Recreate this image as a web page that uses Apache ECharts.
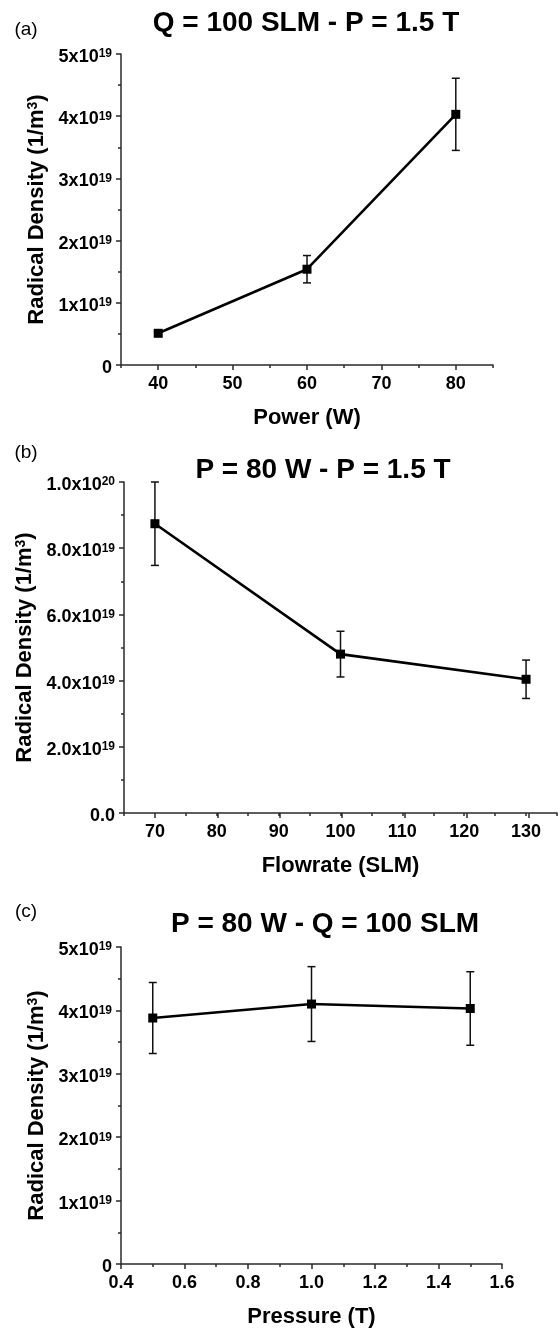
<!DOCTYPE html>
<html>
<head>
<meta charset="utf-8">
<script src="https://cdn.jsdelivr.net/npm/echarts@6/dist/echarts.min.js"></script>
<style>
html,body{margin:0;padding:0;background:#fff;}
#chart{width:560px;height:1329px;}
</style>
</head>
<body>
<div id="chart"></div>
<script>
// ---------------- data (radical density in units of 1e19 m^-3) ----------------
const powerW = [40, 60, 80];
const densityVsPower = [0.51, 1.54, 4.03];
const errVsPower = [0.05, 0.22, 0.58];

const flowSLM = [70, 100, 130];
const densityVsFlow = [8.74, 4.80, 4.04];
const errVsFlow = [1.26, 0.69, 0.58];

const pressureT = [0.5, 1.0, 1.5];
const densityVsPressure = [3.88, 4.10, 4.03];
const errVsPressure = [0.56, 0.59, 0.58];

const powerTicks = [40, 50, 60, 70, 80];
const flowTicks = [70, 80, 90, 100, 110, 120, 130];

const panelLabels = ['(a)', '(b)', '(c)'];
const panelTitles = ['Q = 100 SLM - P = 1.5 T', 'P = 80 W - P = 1.5 T', 'P = 80 W - Q = 100 SLM'];
const xNames = ['Power (W)', 'Flowrate (SLM)', 'Pressure (T)'];
const yName = '{n|Radical Density (1/m}{s|3}{n|)}';

// ---------------- styling ----------------
const FONT = '"Liberation Sans", Arial, Helvetica, sans-serif';
const AXIS_COLOR = '#2a2a2a';

function fmtInt19(v) { // 0, 1x10^19 ...
  if (Math.abs(v) < 1e-9) return '{m|0}';
  return '{m|' + Math.round(v) + 'x10}{s|19}';
}
function fmtDec(v) { // 0.0, 2.0x10^19 ... 1.0x10^20
  if (Math.abs(v) < 1e-9) return '{m|0.0}';
  let e = 19, m = v;
  while (m >= 10 - 1e-9) { m /= 10; e++; }
  return '{m|' + m.toFixed(1) + 'x10}{s|' + e + '}';
}
const yRich = {
  m: {fontSize: 18, fontWeight: 'bold', fontFamily: FONT, color: '#000'},
  s: {fontSize: 12, fontWeight: 'bold', fontFamily: FONT, color: '#000', verticalAlign: 'top'}
};

function yAxisCfg(gridIndex, max, interval, formatter) {
  return {
    type: 'value', gridIndex, min: 0, max, interval,
    name: yName, nameLocation: 'middle', nameGap: 66, nameRotate: 90,
    nameTextStyle: {
      rich: {
        n: {fontSize: 22, fontWeight: 'bold', fontFamily: FONT, color: '#000'},
        s: {fontSize: 14, fontWeight: 'bold', fontFamily: FONT, color: '#000', verticalAlign: 'top'}
      }
    },
    axisLine: {show: true, lineStyle: {color: AXIS_COLOR, width: 1.5}},
    axisTick: {show: true, length: 5, lineStyle: {color: AXIS_COLOR, width: 1.5}},
    minorTick: {show: true, splitNumber: 2, length: 3, lineStyle: {color: AXIS_COLOR, width: 1.5}},
    splitLine: {show: false},
    axisLabel: {margin: 9, formatter, rich: yRich, padding: [6, 0, 0, 0]}
  };
}
function xAxisCfg(gridIndex, min, max, interval, name, formatter, tickLen) {
  return {
    type: 'value', gridIndex, min, max, interval,
    name, nameLocation: 'middle', nameGap: 42,
    nameTextStyle: {fontSize: 22, fontWeight: 'bold', fontFamily: FONT, color: '#000'},
    axisLine: {show: true, onZero: false, lineStyle: {color: AXIS_COLOR, width: 1.5}},
    axisTick: {show: true, length: tickLen, lineStyle: {color: AXIS_COLOR, width: 1.5}},
    splitLine: {show: false},
    axisLabel: {margin: 10, formatter, fontSize: 18, fontWeight: 'bold', fontFamily: FONT, color: '#000'}
  };
}
// overlay axis drawing only the longer major ticks
function majorTickOverlay(gridIndex, min, max, values) {
  return {
    type: 'value', gridIndex, min, max,
    axisLine: {show: false, onZero: false},
    axisTick: {show: true, length: 5, customValues: values, lineStyle: {color: AXIS_COLOR, width: 1.5}},
    axisLabel: {show: false},
    splitLine: {show: false}
  };
}

function errorSeries(xIdx, yIdx, xs, ys, es) {
  return {
    type: 'custom', xAxisIndex: xIdx, yAxisIndex: yIdx, z: 2,
    data: xs.map((x, i) => [x, ys[i] - es[i], ys[i] + es[i]]),
    encode: {x: 0, y: [1, 2]},
    renderItem: function (params, api) {
      const x = api.value(0);
      const lo = api.coord([x, api.value(1)]);
      const hi = api.coord([x, api.value(2)]);
      const hw = 4;
      const st = {stroke: '#111', lineWidth: 1.5};
      return {
        type: 'group',
        children: [
          {type: 'line', shape: {x1: hi[0], y1: hi[1], x2: lo[0], y2: lo[1]}, style: st},
          {type: 'line', shape: {x1: hi[0] - hw, y1: hi[1], x2: hi[0] + hw, y2: hi[1]}, style: st},
          {type: 'line', shape: {x1: lo[0] - hw, y1: lo[1], x2: lo[0] + hw, y2: lo[1]}, style: st}
        ]
      };
    }
  };
}
function lineSeries(xIdx, yIdx, xs, ys) {
  return {
    type: 'line', xAxisIndex: xIdx, yAxisIndex: yIdx, z: 3,
    data: xs.map((x, i) => [x, ys[i]]),
    symbol: 'rect', symbolSize: 9, showSymbol: true,
    lineStyle: {color: '#000', width: 2.6},
    itemStyle: {color: '#000'},
    animation: false
  };
}

const grids = [
  {left: 121, top: 54, width: 372, height: 311},
  {left: 124, top: 482, width: 439, height: 331},
  {left: 121, top: 947, width: 381, height: 318}
];

function txt(x, y, text, size, weight) {
  return {
    type: 'text', x, y, silent: true,
    style: {text, fill: '#000', font: weight + ' ' + size + 'px ' + FONT,
      align: 'center', verticalAlign: 'middle', textAlign: 'center', textVerticalAlign: 'middle'}
  };
}

const option = {
  animation: false,
  backgroundColor: '#fff',
  grid: [grids[0], grids[1], grids[2], grids[0], grids[1]],
  xAxis: [
    xAxisCfg(0, 35, 85, 5, xNames[0], v => (powerTicks.indexOf(v) >= 0 ? String(v) : ''), 3),
    xAxisCfg(1, 65, 135, 5, xNames[1], v => (flowTicks.indexOf(v) >= 0 ? String(v) : ''), 3),
    Object.assign(xAxisCfg(2, 0.4, 1.6, 0.2, xNames[2], v => v.toFixed(1), 5), {
      minorTick: {show: true, splitNumber: 2, length: 3, lineStyle: {color: AXIS_COLOR, width: 1.5}}
    }),
    majorTickOverlay(3, 35, 85, powerTicks),
    majorTickOverlay(4, 65, 135, flowTicks)
  ],
  yAxis: [
    yAxisCfg(0, 5, 1, fmtInt19),
    yAxisCfg(1, 10, 2, fmtDec),
    yAxisCfg(2, 5, 1, fmtInt19),
    {type: 'value', gridIndex: 3, min: 0, max: 5, show: false},
    {type: 'value', gridIndex: 4, min: 0, max: 10, show: false}
  ],
  graphic: [
    txt(26, 30, panelLabels[0], 19, 'normal'),
    txt(26, 453, panelLabels[1], 19, 'normal'),
    txt(26, 912, panelLabels[2], 19, 'normal'),
    txt(306, 23, panelTitles[0], 28, 'bold'),
    txt(323, 470, panelTitles[1], 28, 'bold'),
    txt(325, 924, panelTitles[2], 28, 'bold')
  ],
  series: [
    errorSeries(0, 0, powerW, densityVsPower, errVsPower),
    lineSeries(0, 0, powerW, densityVsPower),
    errorSeries(1, 1, flowSLM, densityVsFlow, errVsFlow),
    lineSeries(1, 1, flowSLM, densityVsFlow),
    errorSeries(2, 2, pressureT, densityVsPressure, errVsPressure),
    lineSeries(2, 2, pressureT, densityVsPressure)
  ]
};

const chart = echarts.init(document.getElementById('chart'), null, {renderer: 'canvas'});
chart.setOption(option);
</script>
</body>
</html>
